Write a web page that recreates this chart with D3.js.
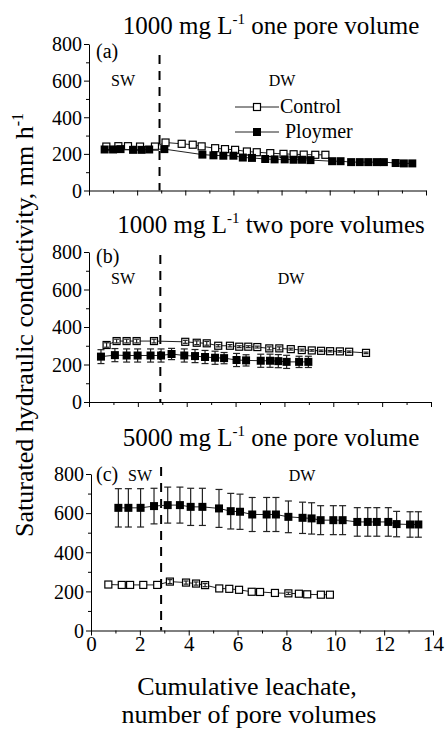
<!DOCTYPE html>
<html>
<head>
<meta charset="utf-8">
<script src="https://cdn.jsdelivr.net/npm/d3@7"></script>
<style>
  body { margin: 0; background: #fff; }
</style>
</head>
<body>
<div id="chart"></div>
<script>
// Axis ticks
const xTicks = [0, 2, 4, 6, 8, 10, 12, 14];
const yTicks = [0, 200, 400, 600, 800];

// Panel (a): 1000 mg/L, one pore volume
const aControlX = [0.72, 1.22, 1.62, 2.12, 2.74, 3.18, 3.85, 4.31, 4.68, 5.24, 5.65, 6.07, 6.56, 6.97, 7.53, 8.08, 8.5, 8.92, 9.4, 9.82];
const aControlY = [240, 242, 242, 240, 240, 262, 255, 250, 241, 231, 226, 222, 213, 209, 204, 200, 198, 196, 195, 195];
const aPolymerX = [0.65, 1.0, 1.31, 1.83, 2.18, 2.5, 3.13, 4.71, 5.17, 5.58, 6.0, 6.39, 6.77, 7.32, 7.71, 8.13, 8.5, 8.85, 9.2, 10.1, 10.45, 10.89, 11.25, 11.6, 11.95, 12.25, 12.74, 13.08, 13.43];
const aPolymerY = [224, 224, 226, 222, 222, 224, 226, 196, 192, 190, 190, 180, 178, 172, 170, 170, 168, 168, 166, 160, 160, 155, 155, 155, 155, 155, 150, 148, 148];

// Panel (b): 1000 mg/L, two pore volumes
const bControlX = [0.72, 1.13, 1.54, 1.95, 2.66, 3.94, 4.41, 4.82, 5.29, 5.77, 6.15, 6.52, 6.89, 7.38, 7.79, 8.26, 8.71, 9.12, 9.5, 9.87, 10.27, 10.65, 11.34];
const bControlY = [304, 325, 325, 325, 325, 321, 316, 313, 300, 300, 295, 295, 293, 286, 286, 282, 277, 275, 273, 271, 270, 268, 262];
const bControlErr = [12, 10, 10, 10, 10, 8, 10, 10, 6, 6, 5, 5, 5, 8, 8, 5, 5, 4, 4, 4, 4, 4, 4];
const bPolymerX = [0.49, 1.06, 1.54, 1.99, 2.52, 2.95, 3.38, 3.9, 4.34, 4.75, 5.16, 5.53, 6.04, 6.43, 7.03, 7.41, 7.75, 8.09, 8.6, 8.98];
const bPolymerY = [242, 250, 248, 248, 248, 248, 256, 248, 245, 240, 236, 234, 224, 222, 220, 220, 218, 214, 214, 214];
const bPolymerErr = [37, 35, 35, 35, 35, 35, 30, 35, 35, 35, 35, 30, 35, 30, 35, 35, 35, 35, 30, 30];

// Panel (c): 5000 mg/L, one pore volume
const cControlX = [0.71, 1.26, 1.6, 2.14, 2.71, 3.23, 3.89, 4.3, 4.67, 5.25, 5.66, 6.06, 6.58, 6.92, 7.53, 8.08, 8.51, 8.85, 9.41, 9.78];
const cControlY = [235, 233, 233, 233, 233, 250, 245, 240, 232, 215, 213, 208, 198, 197, 192, 190, 188, 185, 183, 183];
const cControlErr = [0, 0, 0, 0, 0, 10, 8, 8, 8, 0, 0, 0, 0, 0, 0, 6, 0, 0, 0, 0];
const cPolymerX = [1.12, 1.53, 2.03, 2.58, 3.14, 3.64, 4.08, 4.56, 5.24, 5.72, 6.1, 6.6, 7.19, 7.57, 8.08, 8.66, 9.03, 9.4, 9.92, 10.3, 10.9, 11.33, 11.7, 12.17, 12.51, 13.06, 13.4];
const cPolymerY = [627, 627, 627, 636, 641, 641, 632, 632, 624, 610, 607, 593, 593, 593, 581, 576, 573, 564, 564, 564, 555, 555, 555, 555, 544, 542, 542];
const cPolymerErr = [98, 98, 98, 91, 92, 92, 95, 95, 97, 91, 90, 87, 87, 87, 81, 80, 80, 74, 74, 74, 73, 73, 73, 73, 65, 65, 65];

const panels = [
  { title: '1000 mg L', titleRest: ' one pore volume', tag: '(a)', top: 44, bottom: 190.5, left: 89, right: 426,
    titleY: 34, sw: [123, 86], dw: [282, 86], tagPos: [96, 58], sep: 2.93, sepTop: 55,
    control: { x: aControlX, y: aControlY }, polymer: { x: aPolymerX, y: aPolymerY }, legend: true, xLabels: false },
  { title: '1000 mg L', titleRest: ' two pore volumes', tag: '(b)', top: 252, bottom: 402, left: 89, right: 431,
    titleY: 233, sw: [123, 284], dw: [291, 284], tagPos: [96, 263], sep: 2.92, sepTop: 255,
    control: { x: bControlX, y: bControlY, e: bControlErr }, polymer: { x: bPolymerX, y: bPolymerY, e: bPolymerErr }, xLabels: false },
  { title: '5000 mg L', titleRest: ' one pore volume', tag: '(c)', top: 474, bottom: 630.5, left: 91, right: 433,
    titleY: 446, sw: [140, 481], dw: [302, 481], tagPos: [96, 481], sep: 2.87, sepTop: 467,
    control: { x: cControlX, y: cControlY, e: cControlErr }, polymer: { x: cPolymerX, y: cPolymerY, e: cPolymerErr }, xLabels: true }
];

const svg = d3.select('#chart').append('svg')
  .attr('width', 446)
  .attr('height', 736)
  .attr('font-family', '"Liberation Serif", "Times New Roman", serif')
  .style('background', '#fff');

panels.forEach(p => {
  const x = d3.scaleLinear().domain([0, 14]).range([p.left, p.right]);
  const y = d3.scaleLinear().domain([0, 800]).range([p.bottom, p.top]);
  const g = svg.append('g');

  // Title with superscript
  const t = g.append('text')
    .attr('x', 271)
    .attr('y', p.titleY)
    .attr('text-anchor', 'middle')
    .style('font-size', '25px')
    .text(p.title);
  t.append('tspan').attr('dy', -10).style('font-size', '15px').text('-1');
  t.append('tspan').attr('dy', 10).text(p.titleRest);

  // minor ticks
  g.append('g')
    .attr('transform', `translate(${p.left},0)`)
    .call(d3.axisLeft(y).tickValues(d3.range(100, 800, 200)).tickSize(3).tickFormat(''))
    .call(a => a.select('.domain').remove());
  g.append('g')
    .attr('transform', `translate(0,${p.bottom})`)
    .call(d3.axisBottom(x).tickValues(d3.range(1, 14, 2)).tickSize(3).tickFormat(''))
    .call(a => a.select('.domain').remove());

  // main axes
  g.append('g')
    .attr('transform', `translate(${p.left},0)`)
    .call(d3.axisLeft(y).tickValues(yTicks).tickSize(5).tickSizeOuter(0).tickPadding(2))
    .call(a => a.selectAll('text').style('font-size', '20px').attr('dy', '0.34em'));
  g.append('g')
    .attr('transform', `translate(0,${p.bottom})`)
    .call(d3.axisBottom(x).tickValues(xTicks).tickSize(5).tickSizeOuter(0).tickPadding(1)
      .tickFormat(p.xLabels ? d3.format('d') : ''))
    .call(a => a.selectAll('text').style('font-size', '21px'));
  g.selectAll('g').attr('font-family', null).attr('font-size', null);
  g.selectAll('.domain, .tick line').attr('stroke', '#000').attr('stroke-width', 1);
  g.selectAll('.tick text').attr('fill', '#000');

  // separator between SW and DW
  g.append('line')
    .attr('x1', x(p.sep)).attr('x2', x(p.sep))
    .attr('y1', p.sepTop).attr('y2', p.bottom)
    .attr('stroke', '#000')
    .attr('stroke-width', 2)
    .attr('stroke-dasharray', '9,7');

  g.append('text').attr('x', p.tagPos[0]).attr('y', p.tagPos[1])
    .style('font-size', '20px').text(p.tag);
  g.append('text').attr('x', p.sw[0]).attr('y', p.sw[1]).attr('text-anchor', 'middle')
    .style('font-size', '16px').text('SW');
  g.append('text').attr('x', p.dw[0]).attr('y', p.dw[1]).attr('text-anchor', 'middle')
    .style('font-size', '16px').text('DW');

  // series: lines, error bars, markers
  [['control', false], ['polymer', true]].forEach(([key, filled]) => {
    const s = p[key];
    const pts = s.x.map((v, i) => ({ x: v, y: s.y[i], e: s.e ? s.e[i] : 0 }));

    g.append('path')
      .datum(pts)
      .attr('fill', 'none')
      .attr('stroke', '#222')
      .attr('stroke-width', 1)
      .attr('d', d3.line().x(d => x(d.x)).y(d => y(d.y)));

    const drawErr = () => {
      const eb = g.append('g').attr('stroke', '#222').attr('stroke-width', 1.2);
      pts.filter(d => d.e > 0).forEach(d => {
        const cx = x(d.x);
        const w = filled ? 3.5 : 2.5;
        eb.append('line').attr('x1', cx).attr('x2', cx).attr('y1', y(d.y - d.e)).attr('y2', y(d.y + d.e));
        eb.append('line').attr('x1', cx - w).attr('x2', cx + w).attr('y1', y(d.y + d.e)).attr('y2', y(d.y + d.e));
        eb.append('line').attr('x1', cx - w).attr('x2', cx + w).attr('y1', y(d.y - d.e)).attr('y2', y(d.y - d.e));
      });
    };
    if (filled) drawErr();

    const size = filled ? 8 : 7;
    g.append('g').selectAll('rect')
      .data(pts)
      .join('rect')
      .attr('x', d => x(d.x) - size / 2)
      .attr('y', d => y(d.y) - size / 2)
      .attr('width', size)
      .attr('height', size)
      .attr('fill', filled ? '#000' : '#fff')
      .attr('stroke', '#000')
      .attr('stroke-width', filled ? 0 : 1.2);

    if (!filled) drawErr();
  });

  // legend (panel a only)
  if (p.legend) {
    const items = [{ label: 'Control', filled: false, y: 107, dx: 0 }, { label: 'Ploymer', filled: true, y: 132, dx: 5 }];
    items.forEach(it => {
      g.append('line').attr('x1', 235).attr('x2', 279).attr('y1', it.y).attr('y2', it.y)
        .attr('stroke', '#222').attr('stroke-width', 1);
      const size = it.filled ? 8 : 7;
      g.append('rect').attr('x', 257 - size / 2).attr('y', it.y - size / 2)
        .attr('width', size).attr('height', size)
        .attr('fill', it.filled ? '#000' : '#fff')
        .attr('stroke', '#000').attr('stroke-width', it.filled ? 0 : 1.2);
      g.append('text').attr('x', 280 + it.dx).attr('y', it.y + 6)
        .style('font-size', '20px').text(it.label);
    });
  }
});

// Y axis title
const yl = svg.append('text')
  .attr('transform', 'translate(33,325) rotate(-90)')
  .attr('text-anchor', 'middle')
  .style('font-size', '26px')
  .text('Saturated hydraulic conductivity, mm h');
yl.append('tspan').attr('dy', -10).style('font-size', '16px').text('-1');

// X axis title
svg.append('text').attr('x', 247).attr('y', 695).attr('text-anchor', 'middle')
  .style('font-size', '26px').text('Cumulative leachate,');
svg.append('text').attr('x', 249).attr('y', 723).attr('text-anchor', 'middle')
  .style('font-size', '26px').text('number of pore volumes');
</script>
</body>
</html>
